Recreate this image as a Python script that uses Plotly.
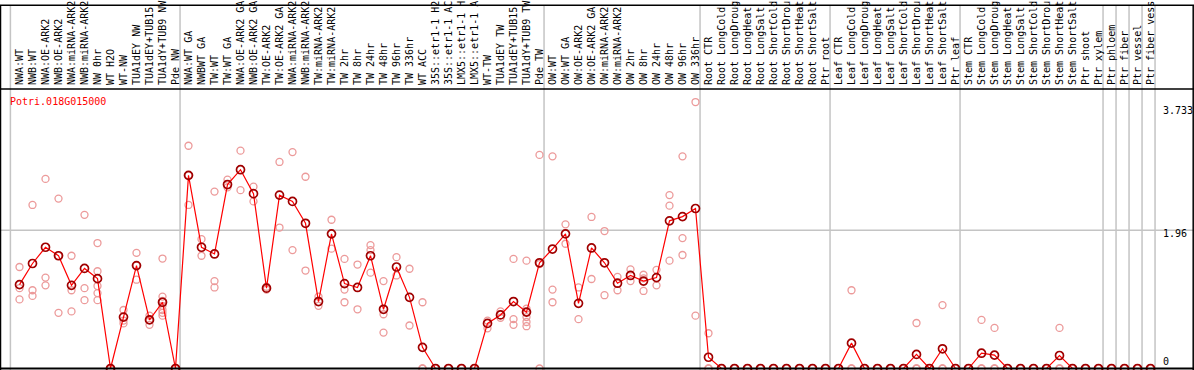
import plotly.graph_objects as go

gene = "Potri.018G015000"

labels = [
    "NWA:WT", "NWB:WT", "NWA:OE-ARK2", "NWB:OE-ARK2", "NWA:miRNA-ARK2", "NWB:miRNA-ARK2",
    "NW 0hr", "WT H2O", "WT-NW", "TUA1dEY NW", "TUA1dEY+TUB15", "TUA1dY+TUB9 NW", "Pde NW",
    "NWA:WT GA", "NWBWT GA", "TW:WT", "TW:WT GA", "NWA:OE-ARK2 GA", "NWB:OE-ARK2 GA",
    "TW:OE-ARK2", "TW:OE-ARK2 GA", "NWA:miRNA-ARK2", "NWB:miRNA-ARK2", "TW:miRNA-ARK2",
    "TW:miRNA-ARK2", "TW 2hr", "TW 8hr", "TW 24hr", "TW 48hr", "TW 96hr", "TW 336hr",
    "WT ACC", "35S::etr1-1 H2", "35S::etr1-1 AC", "LMX5::etr1-1 H", "LMX5::etr1-1 A",
    "WT-TW", "TUA1dEY TW", "TUA1dEY+TUB15", "TUA1dY+TUB9 TW", "Pde TW",
    "OW:WT", "OW:WT GA", "OW:OE-ARK2", "OW:OE-ARK2 GA", "OW:miRNA-ARK2", "OW:miRNA-ARK2",
    "OW 2hr", "OW 8hr", "OW 24hr", "OW 48hr", "OW 96hr", "OW 336hr",
    "Root CTR", "Root LongCold", "Root LongDroug", "Root LongHeat", "Root LongSalt",
    "Root ShortCold", "Root ShortDrou", "Root ShortHeat", "Root ShortSalt", "Ptr root",
    "Leaf CTR", "Leaf LongCold", "Leaf LongDroug", "Leaf LongHeat", "Leaf LongSalt",
    "Leaf ShortCold", "Leaf ShortDrou", "Leaf ShortHeat", "Leaf ShortSalt", "Ptr leaf",
    "Stem CTR", "Stem LongCold", "Stem LongDroug", "Stem LongHeat", "Stem LongSalt",
    "Stem ShortCold", "Stem ShortDrou", "Stem ShortHeat", "Stem ShortSalt", "Ptr shoot",
    "Ptr xylem", "Ptr phloem", "Ptr fiber", "Ptr vessel", "Ptr fiber vess",
]

means = [
    1.19, 1.49, 1.72, 1.60, 1.18, 1.42, 1.275, 0.0, 0.73, 1.46, 0.69, 0.94, 0.0,
    2.74, 1.72, 1.625, 2.61, 2.82, 2.48, 1.14, 2.46, 2.37, 2.06, 0.95, 1.91,
    1.205, 1.15, 1.60, 0.84, 1.44, 1.01, 0.30, 0.0, 0.0, 0.0, 0.0,
    0.64, 0.76, 0.95, 0.80, 1.50,
    1.695, 1.91, 0.925, 1.71, 1.50, 1.21, 1.32, 1.24, 1.29, 2.095, 2.155, 2.27,
    0.16, 0, 0, 0, 0, 0, 0, 0, 0, 0,
    0, 0.36, 0, 0, 0, 0, 0.20, 0, 0.28, 0,
    0, 0.217, 0.19, 0, 0, 0, 0, 0.185, 0, 0,
    0, 0, 0, 0, 0,
]

replicates = [
    [1.44, 1.14, 0.98], [2.32, 1.11, 1.03], [2.69, 1.29, 1.18], [2.41, 0.79, 1.60],
    [1.60, 1.11, 0.81], [2.18, 1.14, 0.97], [1.78, 1.38, 1.17, 1.07, 0.97], [0, 0, 0],
    [0.83, 0.68, 0.64], [1.64, 1.26, 1.46], [0.75, 0.62, 0.69],
    [1.56, 1.02, 0.96, 0.89, 0.83, 0.79, 0.75], [0, 0, 0],
    [3.16, 2.32, 2.74], [1.835, 1.60], [2.51, 1.24, 1.15], [2.68, 2.57], [3.09, 2.53],
    [2.58, 2.37], [1.16, 1.12], [2.93, 2.00], [3.07, 1.68], [2.72, 1.39], [1.02, 0.89],
    [2.11, 1.70], [1.555, 1.12, 0.94], [1.475, 0.84], [1.75, 1.68, 1.36],
    [1.24, 0.77, 0.51], [1.58, 1.32], [1.415, 0.61], [0.94, 0, 0],
    [0, 0, 0], [0, 0, 0], [0, 0, 0], [0, 0, 0],
    [0.68, 0.57], [0.81, 0.72], [1.555, 0.70, 0.62], [1.53, 0.85, 0.80, 0.73, 0.66, 0.60],
    [3.03, 1.48, 0],
    [3.01, 1.12, 0.94], [2.045, 1.77], [1.15, 0.70], [2.15, 1.27], [1.95, 1.04],
    [1.30, 1.11], [1.405, 1.24], [1.33, 1.10, 1.28], [1.40, 1.18], [2.46, 2.31, 1.53],
    [3.01, 1.85, 1.61], [3.78, 0.75],
    [0.50, 0, 0], [0, 0, 0], [0, 0, 0], [0, 0, 0], [0, 0, 0], [0, 0, 0], [0, 0, 0],
    [0, 0, 0], [0, 0, 0], [0, 0, 0],
    [0, 0, 0], [1.11, 0, 0], [0, 0, 0], [0, 0, 0], [0, 0, 0], [0, 0, 0],
    [0.646, 0, 0], [0, 0, 0], [0.90, 0, 0], [0, 0, 0],
    [0, 0, 0], [0.69, 0, 0], [0.576, 0, 0], [0, 0, 0], [0, 0, 0], [0, 0, 0], [0, 0, 0],
    [0.576, 0, 0], [0, 0, 0], [0, 0, 0],
    [0, 0, 0], [0, 0, 0], [0, 0, 0], [0, 0, 0], [0, 0, 0],
]

ytick_vals = [3.733, 1.96, 0]
ytick_text = ["3.733", "1.96", "0"]
group_bounds = [0.3, 13.35, 41.35, 53.35, 63.35, 73.35, 84.35, 85.35, 86.35, 87.35, 88.35]

xs = list(range(1, len(labels) + 1))
rep_x, rep_y = [], []
for i, r in enumerate(replicates):
    for v in r:
        rep_x.append(xs[i])
        rep_y.append(v)

MONO = "DejaVu Sans Mono"
W, H = 1194, 370
T = 85

fig = go.Figure()
fig.add_trace(go.Scatter(
    x=rep_x, y=rep_y, mode="markers",
    marker=dict(symbol="circle-open", size=7, color="#ec9a9a", line=dict(width=1.3)),
    hoverinfo="skip", showlegend=False,
))
fig.add_trace(go.Scatter(
    x=xs, y=means, mode="lines+markers",
    line=dict(color="#ff0000", width=1.2),
    marker=dict(symbol="circle-open", size=8, color="#a00000", line=dict(width=1.7)),
    showlegend=False,
))

shapes = []
grey = "#c4c4c4"
top_paper = 1 + T / (H - T)
for gx in group_bounds:
    shapes.append(dict(type="line", xref="x", yref="paper", x0=gx, x1=gx, y0=0, y1=top_paper,
                       line=dict(color=grey, width=1.5), layer="below"))
shapes.append(dict(type="line", xref="paper", yref="y", x0=0, x1=1, y0=1.96, y1=1.96,
                   line=dict(color=grey, width=1.5), layer="below"))
# frame
blk = dict(color="black", width=1.5)
shapes.append(dict(type="line", xref="paper", yref="paper", x0=0, x1=1, y0=1, y1=1, line=blk))
shapes.append(dict(type="line", xref="paper", yref="paper", x0=0, x1=1, y0=top_paper, y1=top_paper, line=blk))
shapes.append(dict(type="line", xref="paper", yref="paper", x0=0, x1=1, y0=1.5 / (H - T), y1=1.5 / (H - T), line=dict(color="black", width=2)))
shapes.append(dict(type="line", xref="paper", yref="paper", x0=0.5 / W, x1=0.5 / W, y0=0, y1=top_paper, line=blk))
shapes.append(dict(type="line", xref="paper", yref="paper", x0=1 - 0.8 / W, x1=1 - 0.8 / W, y0=0, y1=top_paper, line=blk))

annotations = [dict(text=gene, xref="paper", yref="paper", x=8 / W, y=1 - 12.5 / (H - T),
                    xanchor="left", yanchor="middle", showarrow=False,
                    font=dict(family=MONO, size=10, color="#ff0000"))]
yshifts = [-5, -3, 7]
for v, t, s in zip(ytick_vals, ytick_text, yshifts):
    annotations.append(dict(text=t, xref="paper", yref="y", x=1161 / W, y=v, yshift=s,
                            xanchor="left", yanchor="middle", showarrow=False,
                            font=dict(family=MONO, size=10, color="black")))

xmin = 1 - 19.5 / 13
xmax = xmin + W / 13
s = 71.5
ymax = (368.5 - T) / s
ymin = ymax - (H - T) / s

fig.update_layout(
    width=W, height=H,
    margin=dict(l=0, r=0, t=T, b=0, pad=0),
    paper_bgcolor="white", plot_bgcolor="white",
    xaxis=dict(range=[xmin, xmax], side="top", tickmode="array", tickvals=xs, ticktext=labels,
               tickangle=-90, tickfont=dict(family=MONO, size=10, color="black"),
               showgrid=False, zeroline=False, showline=False, ticks="", ticklabelstandoff=3,
               fixedrange=True),
    yaxis=dict(range=[ymin, ymax], visible=False, fixedrange=True),
    shapes=shapes, annotations=annotations,
    showlegend=False,
)

fig.write_html(
    "out.html",
    config={"displayModeBar": False},
    post_script="document.body.style.margin='0';document.body.style.overflow='hidden';",
)
